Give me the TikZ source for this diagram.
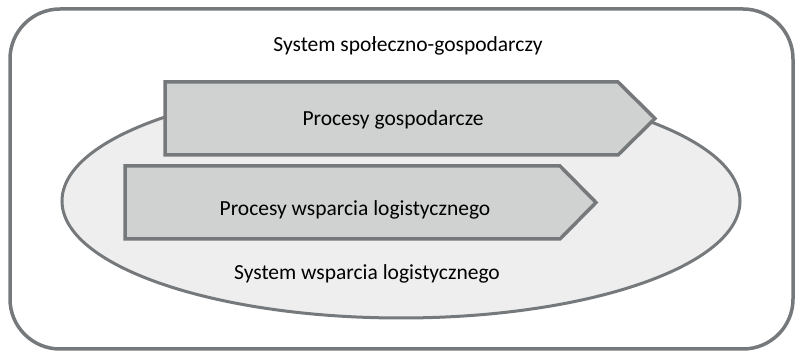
\documentclass[tikz,border=0pt]{standalone}
\usepackage{fontspec}
\setmainfont{Carlito}
\definecolor{edge}{HTML}{76797B}
\definecolor{arrowfill}{HTML}{D0D2D1}
\definecolor{ellfill}{HTML}{EEEEEE}
\begin{document}
\begin{tikzpicture}[x=1pt,y=-1pt,
  outerbox/.style={draw=edge,line width=3.5pt,rounded corners=50pt,fill=white},
  ellbox/.style={draw=edge,line width=3pt,fill=ellfill},
  procbox/.style={draw=edge,line width=3.5pt,fill=arrowfill,line join=miter},
  lbl/.style={font=\fontsize{21.5}{25}\selectfont,text=black,inner sep=0pt}]
\useasboundingbox (0,0) rectangle (798,352);
\draw[outerbox] (10,9) rectangle (793,349);
\draw[ellbox] (401,201) ellipse [x radius=339, y radius=117];
\draw[procbox] (165,82) -- (618,82) -- (655,118.5) -- (618,155) -- (165,155) -- cycle;
\draw[procbox] (125,166) -- (560,166) -- (596,202.5) -- (560,239) -- (125,239) -- cycle;
\node[lbl] (sys) at (408,46) {System społeczno-gospodarczy};
\node[lbl] (pg) at (393,120) {Procesy gospodarcze};
\node[lbl] (pwl) at (355,210) {Procesy wsparcia logistycznego};
\node[lbl] (swl) at (367,274) {System wsparcia logistycznego};
\end{tikzpicture}
\end{document}
